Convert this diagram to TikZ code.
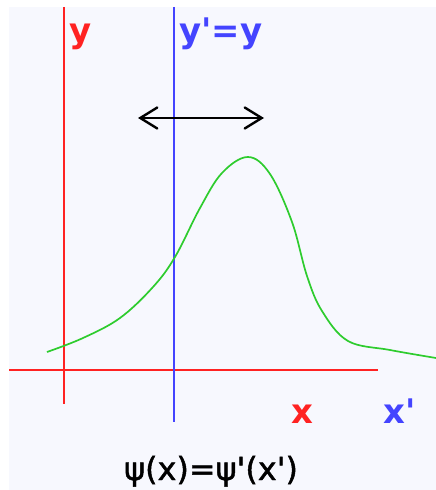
\documentclass[tikz,border=0pt]{standalone}
\usepackage{fontspec}
\newfontfamily\labfont{DejaVu Sans Bold}
\newfontfamily\eqfont[FakeBold=1.4]{DejaVu Sans}
\usetikzlibrary{arrows.meta}
\definecolor{paper}{HTML}{F7F8FE}
\definecolor{axred}{HTML}{FF2222}
\definecolor{axblue}{HTML}{4444FF}
\definecolor{wave}{HTML}{2ECC2E}
\begin{document}
\begin{tikzpicture}[x=1bp, y=-1bp,
  redaxis/.style={draw=axred, line width=1.6bp},
  blueaxis/.style={draw=axblue, line width=1.6bp},
  axlabel/.style={font=\labfont\fontsize{34}{38}\selectfont, inner sep=0pt, anchor=base west}]
\useasboundingbox (0,0) rectangle (436,490);
\fill[paper] (9,7) rectangle (436,490);
% axes of the old frame and of the shifted frame
\draw[redaxis] (64,7) -- (64,404);
\draw[redaxis] (9,370) -- (378,370);
\draw[blueaxis] (174,7) -- (174,422);
% labels
\node[axlabel, text=axred] (ylab) at (69,43) {y};
\node[axlabel, text=axblue] (ypr) at (179,43) {y'=y};
\node[axlabel, text=axred] (xlab) at (291,423) {x};
\node[axlabel, text=axblue] (xpr) at (383,423) {x'};
% shift arrow
\coordinate (sl) at (138,118);
\coordinate (sr) at (264,118);
\draw[line width=2.4bp, {Straight Barb[length=17bp,width=21bp,line cap=round]}-{Straight Barb[length=17bp,width=21bp,line cap=round]}] (sl) -- (sr);
% wave function
\draw[wave, line width=1.7bp] plot[smooth, tension=0.6] coordinates {
  (47,352) (83,338) (120,318) (153,287) (175,257) (200,208) (222,173)
  (248,157) (270,174) (292,222) (307,276) (322,311) (348,341) (390,350) (436,358)};
\node[font=\eqfont\fontsize{32}{36}\selectfont, inner sep=0pt, anchor=base] (psi) at (211,480) {ψ(x)=ψ'(x')};
\end{tikzpicture}
\end{document}
